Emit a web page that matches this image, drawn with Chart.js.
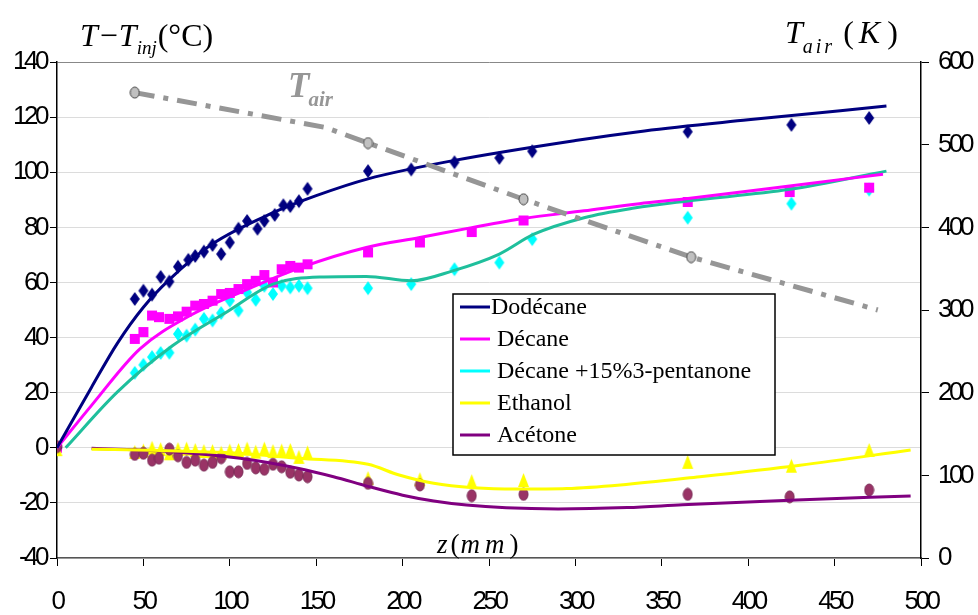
<!DOCTYPE html>
<html>
<head>
<meta charset="utf-8">
<script src="https://cdn.jsdelivr.net/npm/chart.js@4/dist/chart.umd.min.js"></script>
<style>
  body { margin: 0; background: #fff; }
  canvas { display: block; }
</style>
</head>
<body>
<canvas id="chart" width="978" height="615"></canvas>
<script>
// measured points (z in mm, T - Tinj in °C)
const dodecZ = [0, 45, 50, 55, 60, 65, 70, 76, 80, 85, 90, 95, 100, 105, 110, 116, 120, 126, 131, 135, 140, 145, 180, 205, 230, 256, 275, 365, 425, 470];
const dodecT = [0, 54, 57, 55.6, 62, 60.3, 65.7, 68.2, 69.6, 71.2, 73.6, 70.3, 74.5, 79.5, 82.3, 79.5, 82.3, 84.5, 88, 87.7, 89.5, 94, 100.4, 101, 103.6, 105.2, 107.6, 114.7, 117.2, 119.7];

const decZ = [0, 45, 50, 55, 59, 65, 70, 75, 80, 85, 90, 95, 100, 105, 110, 115, 120, 125, 130, 135, 140, 145, 180, 210, 240, 270, 365, 424, 470];
const decT = [0, 39.5, 42, 48, 47.4, 46.8, 47.7, 49.4, 51.6, 52.2, 53.4, 55.8, 56.2, 57.6, 59.4, 60.6, 62.7, 60, 64.8, 66, 65.4, 66.6, 70.9, 74.5, 78.3, 82.5, 89.2, 92.8, 94.4];

const mixZ = [0, 45, 50, 55, 60, 65, 70, 75, 80, 85, 90, 95, 100, 105, 110, 115, 120, 125, 130, 135, 140, 145, 180, 205, 230, 256, 275, 365, 425, 470];
const mixT = [0, 27.2, 30.1, 32.9, 34.4, 34.5, 41.3, 40.7, 42.9, 46.8, 46.2, 48.9, 53.4, 49.8, 56.4, 53.7, 58.8, 55.8, 58.8, 58.2, 58.8, 57.9, 57.9, 59.4, 64.8, 67.2, 75.7, 83.5, 88.6, 93.7];

const ethZ = [0, 45, 50, 55, 60, 65, 70, 75, 80, 85, 90, 95, 100, 105, 110, 115, 120, 125, 130, 135, 140, 145, 180, 210, 240, 270, 365, 425, 470];
const ethT = [-0.5, -1.5, -1, 0, -0.5, -2, -0.5, -0.3, -0.8, -1.2, -1.2, -1.8, -1, -0.8, -0.3, -1.4, -0.3, -1.2, -1, -0.8, -3.3, -1.7, -11, -11.4, -12.1, -11.7, -5.1, -6.5, -0.8];

const aceZ = [0, 45, 50, 55, 59, 65, 70, 75, 80, 85, 90, 95, 100, 105, 110, 115, 120, 125, 130, 135, 140, 145, 180, 210, 240, 270, 365, 424, 470];
const aceT = [0.4, -2.4, -2, -4.5, -3.8, -0.5, -2.9, -5.3, -4.5, -6.3, -5.3, -3.6, -8.7, -8.7, -5.7, -7.3, -7.8, -6, -6.9, -8.9, -9.9, -10.5, -12.9, -13.5, -17.4, -16.9, -16.9, -17.8, -15.3];

// fitted curves
const dodecCurveZ = [0, 20, 35, 50, 65, 90, 125, 150, 180, 230, 300, 340, 400, 480];
const dodecCurveT = [0, 22, 38, 51, 61, 74, 85.3, 91.5, 97.6, 104.3, 111.5, 115, 119, 124];

const decCurveZ = [0, 20, 48, 77, 106, 141, 179, 210, 240, 270, 305, 337, 364, 424, 478];
const decCurveT = [0, 15.4, 35.9, 48, 56.4, 65.4, 72.7, 76.3, 79.9, 83.2, 86, 88.6, 90.4, 95, 99.3];

const mixCurveZ = [5, 35, 67, 98, 125, 152, 179, 205, 229, 256, 276, 305, 334, 364, 424, 480];
const mixCurveT = [0, 20.3, 37.1, 49.2, 59.4, 62, 62.2, 60.6, 64.2, 70.3, 77.5, 83.5, 87, 89.5, 93.8, 100.4];

const ethCurveZ = [20, 60, 100, 140, 180, 198, 218, 241, 266, 295, 326, 372, 430, 494];
const ethCurveT = [-0.5, -1, -1.8, -3.8, -6, -9.9, -12.9, -14.5, -15, -14.8, -13.5, -10.5, -6.3, -0.8];

const aceCurveZ = [20, 67, 106, 140, 160, 180, 200, 218, 237, 260, 290, 330, 362, 424, 494];
const aceCurveT = [-0.2, -1.4, -3.8, -7.5, -10.5, -14, -17.2, -19.3, -20.8, -21.8, -22.2, -21.7, -20.7, -19, -17.5];

// air temperature (K), right axis
const tairZ = [45, 155, 180, 270, 367, 475];
const tairK = [563, 521, 502, 434, 364, 300];
const tairMarked = [true, false, true, true, true, false];

const xTicks = [0, 50, 100, 150, 200, 250, 300, 350, 400, 450, 500];

const legendNames = ['Dodécane', 'Décane', 'Décane +15%3-pentanone', 'Ethanol', 'Acétone'];
const legendColors = ['#000080', '#ff00ff', '#00ffff', '#ffff00', '#800080'];

function pts(xs, ys) {
    return xs.map((x, i) => ({x: x, y: ys[i]}));
}

function marker(shape, fill, stroke, w, h) {
    const c = document.createElement('canvas');
    c.width = w + 2;
    c.height = h + 2;
    const g = c.getContext('2d');
    const cx = c.width / 2, cy = c.height / 2;
    g.fillStyle = fill;
    g.strokeStyle = stroke;
    g.lineWidth = 1;
    g.beginPath();
    if (shape === 'diamond') {
        g.moveTo(cx, cy - h / 2);
        g.lineTo(cx + w / 2, cy);
        g.lineTo(cx, cy + h / 2);
        g.lineTo(cx - w / 2, cy);
        g.closePath();
    } else if (shape === 'square') {
        g.rect(cx - w / 2, cy - h / 2, w, h);
    } else if (shape === 'triangle') {
        g.moveTo(cx, cy - h / 2);
        g.lineTo(cx + w / 2, cy + h / 2);
        g.lineTo(cx - w / 2, cy + h / 2);
        g.closePath();
    } else {
        g.ellipse(cx, cy, w / 2, h / 2, 0, 0, Math.PI * 2);
    }
    g.fill();
    if (stroke) g.stroke();
    return c;
}

const mkNavy = marker('diamond', '#000080', null, 10, 14);
const mkCyan = marker('diamond', '#00ffff', null, 10, 14);
const mkMag = marker('square', '#ff00ff', null, 10, 10);
const mkYel = marker('triangle', '#ffff00', null, 11, 14);
const mkAce = marker('ellipse', '#993366', '#7a2a55', 9, 12);
const mkAir = marker('ellipse', '#c0c0c0', '#404040', 9, 11);

function scatterSet(label, data, style, order) {
    return {label: label, data: data, showLine: false, pointStyle: style, pointRadius: 6, order: order, yAxisID: 'y'};
}
function curveSet(label, data, color, order) {
    return {label: label, data: data, showLine: true, borderColor: color, borderWidth: 3, pointRadius: 0,
        cubicInterpolationMode: 'monotone', order: order, yAxisID: 'y'};
}

const serif = "'Liberation Serif', 'Times New Roman', serif";

function drawRich(ctx, x, y, parts) {
    parts.forEach(p => {
        ctx.font = p.f;
        ctx.fillStyle = p.c || '#000';
        ctx.letterSpacing = p.ls || '0px';
        x += p.dx || 0;
        ctx.fillText(p.t, x, y + (p.dy || 0));
        x += ctx.measureText(p.t).width;
    });
    ctx.letterSpacing = '0px';
}

// squeeze the tick labels like the condensed font of the original
const narrowTicks = {
    id: 'narrowTicks',
    beforeDraw(chart) {
        chart.ctx.letterSpacing = '-3.5px';
    }
};

const decorPlugin = {
    id: 'decor',
    afterDraw(chart) {
        const ctx = chart.ctx;
        ctx.letterSpacing = '0px';
        ctx.save();
        ctx.textBaseline = 'alphabetic';
        ctx.textAlign = 'left';

        // left axis title
        drawRich(ctx, 80, 46, [
            {t: 'T', f: 'italic 32px ' + serif},
            {t: '\u2212', f: '32px ' + serif, dx: 2},
            {t: 'T', f: 'italic 32px ' + serif, dx: 1},
            {t: 'inj', f: 'italic 19px ' + serif, dy: 8},
            {t: '(°C)', f: '32px ' + serif, dx: 1}
        ]);
        // right axis title
        drawRich(ctx, 785, 43, [
            {t: 'T', f: 'italic 32px ' + serif},
            {t: 'air', f: 'italic 20px ' + serif, dy: 10, ls: '3px'},
            {t: '(', f: '32px ' + serif, dx: 8},
            {t: 'K', f: 'italic 32px ' + serif, dx: 5},
            {t: ')', f: '32px ' + serif, dx: 7}
        ]);
        // T_air label in plot
        drawRich(ctx, 288, 97, [
            {t: 'T', f: 'bold italic 35px ' + serif, c: '#969696'},
            {t: 'air', f: 'bold italic 21px ' + serif, c: '#969696', dy: 9, dx: -1}
        ]);
        // x axis title
        drawRich(ctx, 437, 553, [
            {t: 'z', f: 'italic 27px ' + serif},
            {t: '(', f: '27px ' + serif, dx: 3},
            {t: 'mm', f: 'italic 27px ' + serif, ls: '5px', dx: 1},
            {t: ')', f: '27px ' + serif}
        ]);

        // legend box
        const lx = 453, ly = 294, lw = 322, lh = 161;
        ctx.fillStyle = '#fff';
        ctx.fillRect(lx, ly, lw, lh);
        ctx.strokeStyle = '#000';
        ctx.lineWidth = 1.5;
        ctx.strokeRect(lx, ly, lw, lh);
        ctx.font = '24px ' + serif;
        ctx.textBaseline = 'middle';
        legendNames.forEach((name, i) => {
            const yy = 307 + i * 32;
            ctx.strokeStyle = legendColors[i];
            ctx.lineWidth = 3;
            ctx.beginPath();
            ctx.moveTo(460, yy);
            ctx.lineTo(490, yy);
            ctx.stroke();
            ctx.fillStyle = '#000';
            ctx.fillText(name, i === 0 ? 491 : 497, yy + 1);
        });
        ctx.restore();
    }
};

const tickFont = {family: "'Liberation Sans', Arial, sans-serif", size: 26};

const config = {
    type: 'scatter',
    data: {
        datasets: [
            {
                label: 'T air', data: pts(tairZ, tairK), yAxisID: 'y2', showLine: true,
                borderColor: '#969696', borderWidth: 5, borderDash: [20, 9, 5, 9], tension: 0,
                pointStyle: mkAir, pointRadius: tairMarked.map(m => m ? 6 : 0), order: 0
            },
            curveSet('Dodécane', pts(dodecCurveZ, dodecCurveT), '#000080', 1),
            curveSet('Décane', pts(decCurveZ, decCurveT), '#ff00ff', 2),
            curveSet('Décane +15%3-pentanone', pts(mixCurveZ, mixCurveT), '#1fbf9c', 3),
            curveSet('Ethanol', pts(ethCurveZ, ethCurveT), '#ffff00', 4),
            curveSet('Acétone', pts(aceCurveZ, aceCurveT), '#800080', 5),
            scatterSet('Acétone points', pts(aceZ, aceT), mkAce, 6),
            scatterSet('Ethanol points', pts(ethZ, ethT), mkYel, 7),
            scatterSet('Dodécane points', pts(dodecZ, dodecT), mkNavy, 8),
            scatterSet('Décane points', pts(decZ, decT), mkMag, 9),
            scatterSet('Mélange points', pts(mixZ, mixT), mkCyan, 10)
        ]
    },
    options: {
        responsive: false,
        devicePixelRatio: 1,
        animation: false,
        layout: {padding: {top: 62, left: 0, right: 0, bottom: 0}},
        plugins: {legend: {display: false}, tooltip: {enabled: false}},
        scales: {
            x: {
                type: 'linear', min: 0, max: 500,
                afterBuildTicks: s => { s.ticks = xTicks.map(v => ({value: v})); },
                afterFit: s => { s.height = 57; },
                grid: {drawOnChartArea: false, tickLength: 8, tickColor: '#000', tickWidth: 1},
                border: {color: '#555', width: 1.5},
                ticks: {font: tickFont, color: '#000', padding: 20, maxRotation: 0, autoSkip: false}
            },
            y: {
                position: 'left', min: -40, max: 140,
                afterFit: s => { s.width = 57; },
                grid: {
                    color: c => c.tick && c.tick.value === 140 ? '#888' : '#dcdcdc',
                    lineWidth: 1, tickLength: 7, tickColor: '#000'
                },
                border: {color: '#000', width: 1.5},
                ticks: {stepSize: 20, font: tickFont, color: '#000', padding: 4}
            },
            y2: {
                position: 'right', min: 0, max: 600,
                afterFit: s => { s.width = 57; },
                grid: {drawOnChartArea: false, tickLength: 8, tickColor: '#000'},
                border: {color: '#000', width: 1.5},
                ticks: {stepSize: 100, font: tickFont, color: '#000', padding: 9}
            }
        }
    },
    plugins: [narrowTicks, decorPlugin]
};

const chart = new Chart(document.getElementById('chart'), config);
</script>
</body>
</html>
